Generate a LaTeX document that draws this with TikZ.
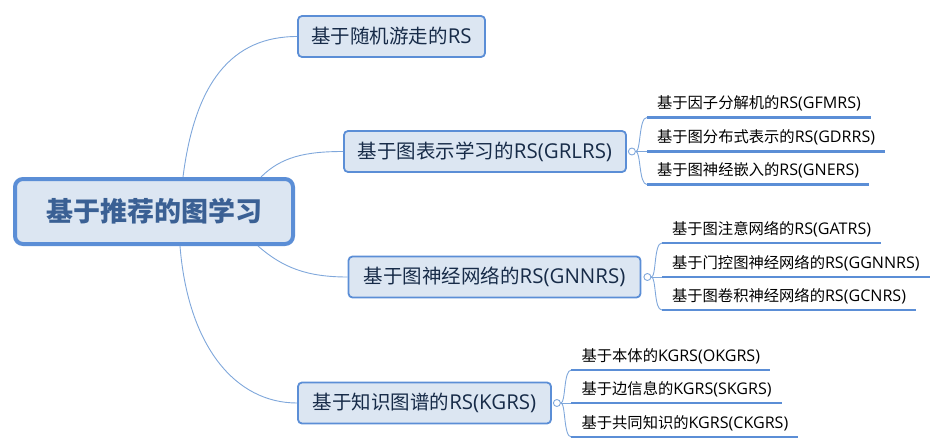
\documentclass[tikz,border=0pt]{standalone}
\usepackage{fontspec}
\setmainfont[Scale=1.05]{Open Sans}
\newfontfamily\cjk{Noto Sans CJK SC}
\definecolor{boxfill}{HTML}{DCE6F2}
\definecolor{boxborder}{HTML}{5B8ED6}
\definecolor{linkcol}{HTML}{7FA7DB}
\definecolor{boxtext}{HTML}{172B48}
\definecolor{roottext}{HTML}{3A6094}
\tikzset{
  rootbox/.style={draw=boxborder, fill=boxfill, line width=4pt, rounded corners=8pt,
    minimum width=278pt, minimum height=65pt, inner sep=0pt, text=roottext,
    font=\fontsize{27pt}{31pt}\selectfont\cjk\bfseries},
  topicbox/.style={draw=boxborder, fill=boxfill, line width=1.8pt, rounded corners=4pt,
    minimum height=41pt, inner sep=0pt, text=boxtext,
    font=\fontsize{19.5pt}{24pt}\selectfont},
  subtopic/.style={anchor=south west, inner xsep=10pt, inner ysep=0pt,
    minimum height=25.5pt, text height=11pt, text depth=3pt, text=black,
    font=\fontsize{15.3pt}{18pt}\selectfont},
  uline/.style={draw=boxborder, line width=2.8pt},
  link/.style={draw=linkcol, line width=0.9pt},
  bracket/.style={draw=linkcol, line width=0.9pt},
  knob/.style={circle, draw=linkcol, fill=white, line width=0.9pt, minimum size=7pt, inner sep=0pt},
}
\begin{document}
\begin{tikzpicture}[x=1pt, y=-1pt]
\useasboundingbox (0,0) rectangle (942,447);

% root
\node[rootbox] (root) at (154,211.5) {基于推荐的图学习};

% main topics
\node[topicbox, minimum width=187pt] (b1) at (391.5,36.5) {{\cjk 基于随机游走的}RS};
\node[topicbox, minimum width=282pt] (b2) at (485,151.5) {{\cjk 基于图表示学习的}RS(GRLRS)};
\node[topicbox, minimum width=292pt] (b3) at (494.5,277) {{\cjk 基于图神经网络的}RS(GNNRS)};
\node[topicbox, minimum width=253pt] (b4) at (424.5,403) {{\cjk 基于知识图谱的}RS(KGRS)};

% root connectors
\draw[link] ([xshift=29pt]root.north) .. controls +(12,-95) and +(-65,0) .. (b1.west);
\draw[link] ([xshift=107pt]root.north) .. controls +(20,-20) and +(-38,0) .. (b2.west);
\draw[link] ([xshift=104pt]root.south) .. controls +(25,22) and +(-40,0) .. (b3.west);
\draw[link] ([xshift=26pt]root.south) .. controls +(8,100) and +(-62,0) .. (b4.west);

% knobs
\node[knob] (k2) at ([xshift=5pt]b2.east) {};
\node[knob] (k3) at ([xshift=6pt]b3.east) {};
\node[knob] (k4) at ([xshift=5pt]b4.east) {};

% subtopics of b2
\node[subtopic] (s21) at ([xshift=11pt,yshift=34pt]k2.east) {{\cjk 基于因子分解机的}RS(GFMRS)};
\node[subtopic] (s22) at ([xshift=11pt]k2.east) {{\cjk 基于图分布式表示的}RS(GDRRS)};
\node[subtopic] (s23) at ([xshift=11pt,yshift=-33pt]k2.east) {{\cjk 基于图神经嵌入的}RS(GNERS)};

% subtopics of b3
\node[subtopic] (s31) at ([xshift=10.5pt,yshift=34pt]k3.east) {{\cjk 基于图注意网络的}RS(GATRS)};
\node[subtopic] (s32) at ([xshift=10.5pt]k3.east) {{\cjk 基于门控图神经网络的}RS(GGNNRS)};
\node[subtopic] (s33) at ([xshift=10.5pt,yshift=-33pt]k3.east) {{\cjk 基于图卷积神经网络的}RS(GCNRS)};

% subtopics of b4
\node[subtopic] (s41) at ([xshift=10.5pt,yshift=33pt]k4.east) {{\cjk 基于本体的}KGRS(OKGRS)};
\node[subtopic] (s42) at ([xshift=10.5pt]k4.east) {{\cjk 基于边信息的}KGRS(SKGRS)};
\node[subtopic] (s43) at ([xshift=10.5pt,yshift=-34pt]k4.east) {{\cjk 基于共同知识的}KGRS(CKGRS)};

% brackets
\foreach \k/\a/\b/\c in {k2/s21/s22/s23, k3/s31/s32/s33, k4/s41/s42/s43} {
  \draw[bracket] (\k.east) .. controls +(5,0) and +(-8,0) .. (\a.south west);
  \draw[bracket] (\k.east) -- (\b.south west);
  \draw[bracket] (\k.east) .. controls +(5,0) and +(-8,0) .. (\c.south west);
}

% underlines
\foreach \s in {s21,s22,s23,s31,s32,s33,s41,s42,s43} {
  \draw[uline] (\s.south west) -- (\s.south east);
}
\end{tikzpicture}
\end{document}
